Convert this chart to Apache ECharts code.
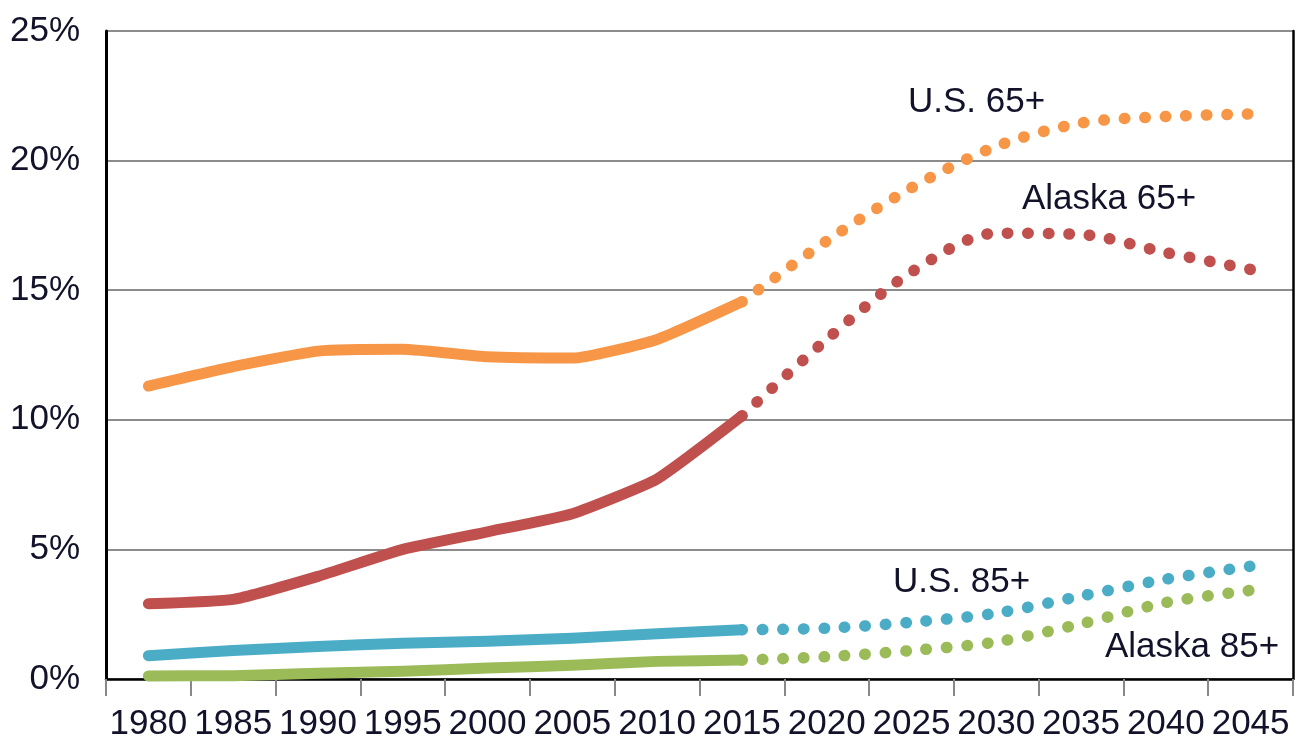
<!DOCTYPE html>
<html>
<head>
<meta charset="utf-8">
<script src="https://cdn.jsdelivr.net/npm/echarts@6/dist/echarts.min.js"></script>
<style>
html, body { margin: 0; padding: 0; background: #fff; }
#chart { width: 1300px; height: 742px; }
</style>
</head>
<body>
<div id="chart"></div>
<script>
// x categories, one every 5 years
var years = ['1980','1985','1990','1995','2000','2005','2010','2015','2020','2025','2030','2035','2040','2045'];
var yTicks = [0, 5, 10, 15, 20, 25];

// percent of population, actual part (1980-2015)
var us65Actual     = [11.3, 12.05, 12.65, 12.72, 12.43, 12.38, 13.1, 14.55];
var alaska65Actual = [2.9, 3.07, 3.96, 5.0, 5.68, 6.38, 7.72, 10.15];
var us85Actual     = [0.9, 1.1, 1.25, 1.38, 1.46, 1.57, 1.75, 1.9];
var alaska85Actual = [0.12, 0.13, 0.22, 0.3, 0.42, 0.53, 0.68, 0.73];

// projected part (2015-2045)
var us65Proj     = [14.55, 16.9, 18.95, 20.55, 21.45, 21.7, 21.8];
var alaska65Proj = [10.15, 13.1, 15.7, 17.2, 17.15, 16.45, 15.8];
var us85Proj     = [1.9, 1.96, 2.19, 2.54, 3.2, 3.85, 4.35];
var alaska85Proj = [0.73, 0.86, 1.1, 1.43, 2.13, 2.95, 3.42];

var colors = { us65: '#F79646', ak65: '#C0504D', us85: '#4BACC6', ak85: '#9BBB59' };

function padActual(arr) {
	var out = arr.slice();
	while (out.length < years.length) out.push(null);
	return out;
}
function padProj(arr) {
	var out = [];
	for (var i = 0; i < years.length - arr.length; i++) out.push(null);
	return out.concat(arr);
}
function solid(name, data, color) {
	return {
		name: name, type: 'line', data: padActual(data), symbol: 'none', smooth: 0.15,
		lineStyle: { color: color, width: 11, cap: 'round', join: 'round' }
	};
}
function dotted(name, data, color) {
	return {
		name: name, type: 'line', data: padProj(data), symbol: 'none', smooth: 0.3,
		lineStyle: { color: color, width: 11.5, cap: 'round', type: [0.5, 20] }
	};
}

var fontFam = '"Liberation Sans", Arial, sans-serif';
var textCol = '#12122a';
var myChart = echarts.init(document.getElementById('chart'));
var option = {
	backgroundColor: '#fff',
	animation: false,
	grid: { left: 106, right: 7, top: 31, bottom: 59 },
	xAxis: {
		type: 'category',
		data: years,
		boundaryGap: true,
		axisLine: { lineStyle: { color: '#000', width: 2.5 } },
		axisTick: { show: true, length: 17, lineStyle: { color: '#888', width: 2 } },
		axisLabel: { color: textCol, fontSize: 35, fontFamily: fontFam, margin: 28, interval: 0 }
	},
	yAxis: [{
		type: 'value',
		min: yTicks[0], max: yTicks[yTicks.length - 1], interval: 5,
		axisLine: { show: true, lineStyle: { color: '#000', width: 3 } },
		axisTick: { show: false },
		splitLine: { lineStyle: { color: '#8c8c8c', width: 2 } },
		axisLabel: { color: textCol, fontSize: 35, fontFamily: fontFam, margin: 26, formatter: '{value}%' }
	}, {
		type: 'value',
		position: 'right',
		min: 0, max: 25, interval: 5,
		axisLine: { show: true, lineStyle: { color: '#000', width: 2.5 } },
		axisTick: { show: false },
		axisLabel: { show: false },
		splitLine: { show: false }
	}],
	graphic: [
		{ type: 'text', left: 908, top: 85, style: { text: 'U.S. 65+', fontSize: 35, fontFamily: fontFam, fill: textCol } },
		{ type: 'text', left: 1022, top: 182, style: { text: 'Alaska 65+', fontSize: 35, fontFamily: fontFam, fill: textCol } },
		{ type: 'text', left: 893, top: 565, style: { text: 'U.S. 85+', fontSize: 35, fontFamily: fontFam, fill: textCol } },
		{ type: 'text', left: 1105, top: 630, style: { text: 'Alaska 85+', fontSize: 35, fontFamily: fontFam, fill: textCol } }
	],
	series: [
		solid('U.S. 65+', us65Actual, colors.us65),
		dotted('U.S. 65+ projected', us65Proj, colors.us65),
		solid('Alaska 65+', alaska65Actual, colors.ak65),
		dotted('Alaska 65+ projected', alaska65Proj, colors.ak65),
		solid('U.S. 85+', us85Actual, colors.us85),
		dotted('U.S. 85+ projected', us85Proj, colors.us85),
		solid('Alaska 85+', alaska85Actual, colors.ak85),
		dotted('Alaska 85+ projected', alaska85Proj, colors.ak85)
	]
};
myChart.setOption(option);
</script>
</body>
</html>
